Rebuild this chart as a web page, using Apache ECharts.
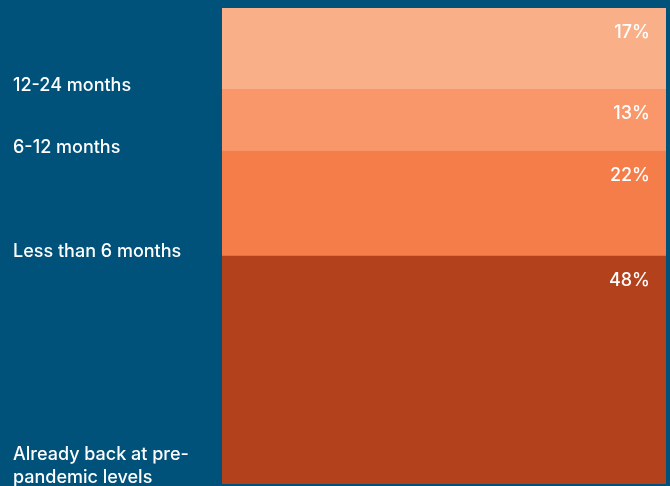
<!DOCTYPE html>
<html>
<head>
<meta charset="utf-8">
<script src="https://cdn.jsdelivr.net/npm/echarts@6/dist/echarts.min.js"></script>
<style>
  html, body { margin: 0; padding: 0; background: #00527a; }
  #chart { width: 670px; height: 486px; }
</style>
</head>
<body>
<div id="chart"></div>
<script>
// Segments listed bottom-up, as they stack
const categories = ['Already back at pre-\npandemic levels', 'Less than 6 months', '6-12 months', '12-24 months'];
const shares = [48, 22, 13, 17];
const colors = ['#b3411b', '#f47d4a', '#f9976a', '#f9b088'];

const FONT = 'Inter, "Noto Sans", sans-serif';

const chart = echarts.init(document.getElementById('chart'), null, { renderer: 'canvas' });

const series = shares.map((v, i) => ({
  name: categories[i],
  type: 'bar',
  stack: 'total',
  barWidth: '100%',
  data: [v],
  itemStyle: { color: colors[i] },
  label: {
    show: true,
    position: 'insideTopRight',
    distance: 16,
    formatter: '{c}%',
    color: '#ffffff',
    fontFamily: FONT,
    fontSize: 18,
    fontWeight: 500
  },
  emphasis: { disabled: true }
}));

chart.setOption({
  backgroundColor: '#00527a',
  animation: false,
  grid: { left: 222, right: 4, top: 8, bottom: 2 },
  xAxis: { type: 'category', data: [''], show: false },
  yAxis: { type: 'value', min: 0, max: 100, show: false },
  series: series
});

const graphics = [];

// Warm backdrop under the bar so the anti-aliased joins between segments
// don't let the blue page colour show through
const yTop = chart.convertToPixel({ yAxisIndex: 0 }, 100);
const yBot = chart.convertToPixel({ yAxisIndex: 0 }, 0);
graphics.push({
  type: 'rect',
  z: 0,
  shape: { x: 222, y: yTop, width: 670 - 222 - 4, height: yBot - yTop },
  style: { fill: '#f68a5a' },
  silent: true
});

// Category names on the left, anchored at the lower edge of each segment
let base = 0;
shares.forEach((v, i) => {
  const y = chart.convertToPixel({ yAxisIndex: 0 }, base);
  const multi = categories[i].indexOf('\n') >= 0;
  graphics.push({
    type: 'text',
    left: 13,
    top: multi ? y - 41 : y - 15,
    style: {
      text: categories[i],
      fill: '#ffffff',
      font: '500 18px ' + FONT,
      lineHeight: 23
    }
  });
  base += v;
});
chart.setOption({ graphic: graphics });
</script>
</body>
</html>
